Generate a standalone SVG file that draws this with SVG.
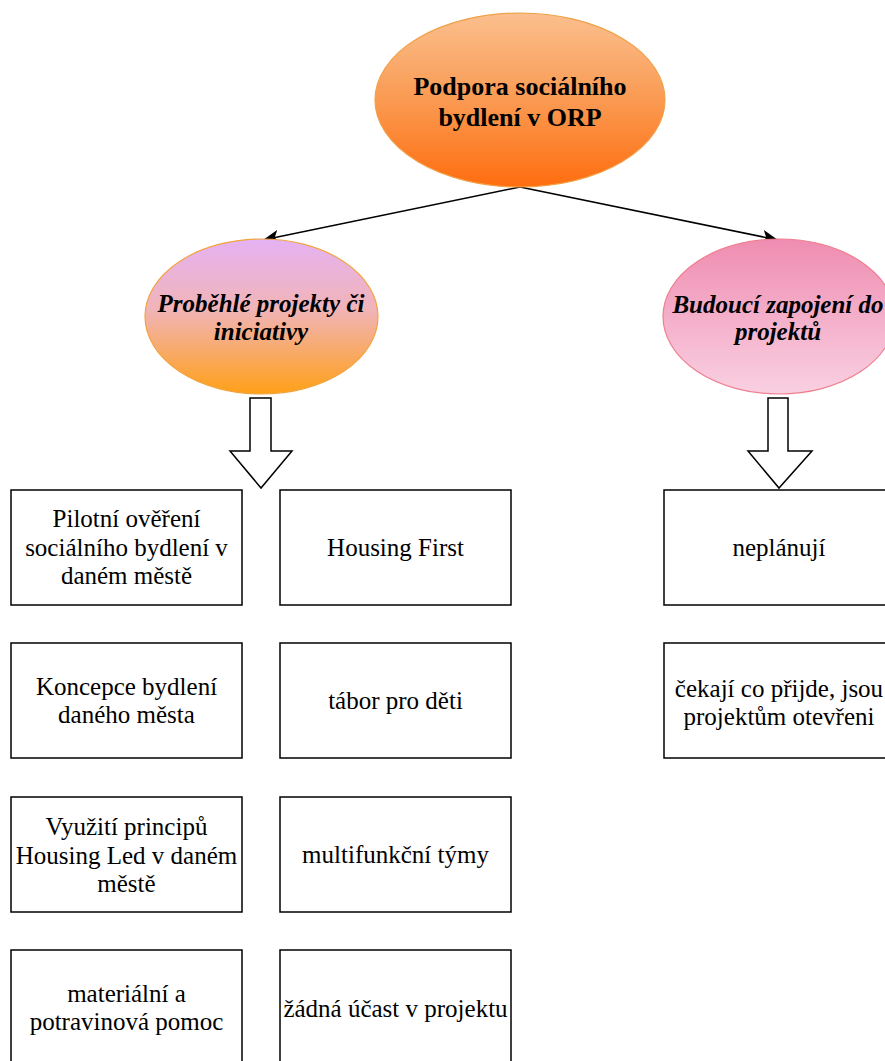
<svg xmlns="http://www.w3.org/2000/svg" width="885" height="1061" viewBox="0 0 885 1061">
<style>
.box{fill:#ffffff;stroke:#000000;stroke-width:1.5}
.t{font-family:"Liberation Serif","Times New Roman",serif;font-size:25px;fill:#000000;text-anchor:middle}
.tb{font-family:"Liberation Serif","Times New Roman",serif;font-size:26px;font-weight:bold;fill:#000000;text-anchor:middle}
.ti{font-family:"Liberation Serif","Times New Roman",serif;font-size:25px;font-weight:bold;font-style:italic;fill:#000000;text-anchor:middle}
.conn{fill:none;stroke:#000000;stroke-width:1.5}
.block{fill:#ffffff;stroke:#000000;stroke-width:1.5;stroke-linejoin:miter}
</style>
<defs>
<linearGradient id="gTop" x1="0" y1="0" x2="0" y2="1">
<stop offset="0" stop-color="#fbbf8e"/>
<stop offset="0.5" stop-color="#fa9a52"/>
<stop offset="1" stop-color="#ff6d0e"/>
</linearGradient>
<linearGradient id="gLeft" x1="0" y1="0" x2="0" y2="1">
<stop offset="0" stop-color="#e5b2f3"/>
<stop offset="0.45" stop-color="#f1b4b8"/>
<stop offset="1" stop-color="#ffa018"/>
</linearGradient>
<linearGradient id="gRight" x1="0" y1="0" x2="0" y2="1">
<stop offset="0" stop-color="#ef8db1"/>
<stop offset="1" stop-color="#f9d0e1"/>
</linearGradient>
<marker id="arr" markerUnits="userSpaceOnUse" markerWidth="18" markerHeight="14" refX="16" refY="7" orient="auto">
<path d="M0,0 L16,7 L0,14 L4,7 Z" fill="#000000"/>
</marker>
</defs>

<g id="connectors">
<line class="conn" x1="520" y1="187" x2="263" y2="240" marker-end="url(#arr)"/>
<line class="conn" x1="520" y1="187" x2="778" y2="240" marker-end="url(#arr)"/>
<path class="block" d="M250,398 L271,398 L271,451 L292,451 L261,488 L230,451 L250,451 Z"/>
<path class="block" d="M768,398 L788,398 L788,451 L812,451 L779,488 L748,451 L768,451 Z"/>
</g>

<g id="root">
<ellipse cx="520" cy="100" rx="145" ry="87" fill="url(#gTop)" stroke="#f0a048" stroke-width="1.2"/>
<text class="tb" x="520" y="95">Podpora sociálního</text>
<text class="tb" x="520" y="126">bydlení v ORP</text>
</g>

<g id="past">
<ellipse cx="261.5" cy="316.5" rx="116.5" ry="77.5" fill="url(#gLeft)" stroke="#f2a440" stroke-width="1.2"/>
<text class="ti" x="261" y="312">Proběhlé projekty či</text>
<text class="ti" x="261" y="340">iniciativy</text>
</g>

<g id="future">
<ellipse cx="779" cy="316.5" rx="116" ry="77.5" fill="url(#gRight)" stroke="#ef7f90" stroke-width="1.2"/>
<text class="ti" x="778" y="313">Budoucí zapojení do</text>
<text class="ti" x="778" y="340">projektů</text>
</g>

<g id="n1">
<rect class="box" x="11" y="490" width="231" height="115"/>
<text class="t" x="126.5" y="527">Pilotní ověření</text>
<text class="t" x="126.5" y="555.5">sociálního bydlení v</text>
<text class="t" x="126.5" y="584">daném městě</text>
</g>
<g id="n2">
<rect class="box" x="280" y="490" width="231" height="115"/>
<text class="t" x="395.5" y="555.5">Housing First</text>
</g>
<g id="n3">
<rect class="box" x="11" y="643" width="231" height="115"/>
<text class="t" x="126.5" y="695">Koncepce bydlení</text>
<text class="t" x="126.5" y="723">daného města</text>
</g>
<g id="n4">
<rect class="box" x="280" y="643" width="231" height="115"/>
<text class="t" x="395.5" y="709">tábor pro děti</text>
</g>
<g id="n5">
<rect class="box" x="11" y="797" width="231" height="115"/>
<text class="t" x="126.5" y="835">Využití principů</text>
<text class="t" x="126.5" y="863.5">Housing Led v daném</text>
<text class="t" x="126.5" y="892">městě</text>
</g>
<g id="n6">
<rect class="box" x="280" y="797" width="231" height="115"/>
<text class="t" x="395.5" y="863">multifunkční týmy</text>
</g>
<g id="n7">
<rect class="box" x="11" y="950" width="231" height="116"/>
<text class="t" x="126.5" y="1002">materiální a</text>
<text class="t" x="126.5" y="1030">potravinová pomoc</text>
</g>
<g id="n8">
<rect class="box" x="280" y="950" width="231" height="116"/>
<text class="t" x="395.5" y="1017">žádná účast v projektu</text>
</g>
<g id="n9">
<rect class="box" x="664" y="490" width="231" height="115"/>
<text class="t" x="779" y="555.5">neplánují</text>
</g>
<g id="n10">
<rect class="box" x="664" y="643" width="231" height="115"/>
<text class="t" x="779" y="697">čekají co přijde, jsou</text>
<text class="t" x="779" y="725">projektům otevřeni</text>
</g>
</svg>
